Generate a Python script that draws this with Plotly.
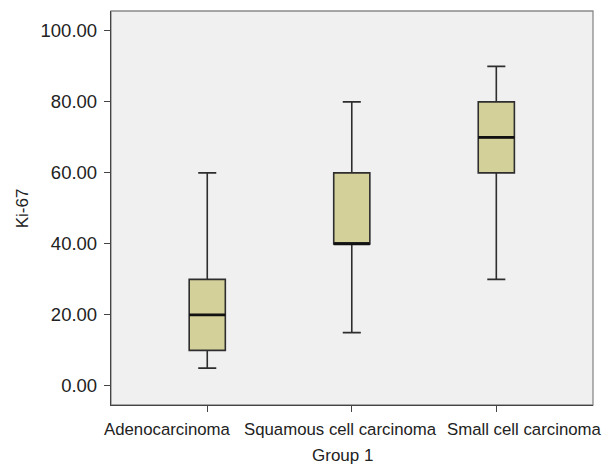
import plotly.graph_objects as go

categories = ["Adenocarcinoma", "Squamous cell carcinoma", "Small cell carcinoma"]
lower_whisker = [5, 15, 30]
q1 = [10, 40, 60]
median = [20, 40, 70]
q3 = [30, 60, 80]
upper_whisker = [60, 80, 90]
y_ticks = [0, 20, 40, 60, 80, 100]

xpos = list(range(len(categories)))
BOX_W = 0.25

fig = go.Figure()
fig.add_trace(go.Box(
    x=xpos, q1=q1, median=median, q3=q3,
    lowerfence=lower_whisker, upperfence=upper_whisker,
    width=BOX_W, whiskerwidth=0.5,
    fillcolor="#d4d09a", line=dict(color="#2e2e2e", width=1.6),
    boxpoints=False, hoverinfo="skip", showlegend=False,
))

# thicker median lines
mx, my = [], []
for i, m in zip(xpos, median):
    mx += [i - BOX_W / 2, i + BOX_W / 2, None]
    my += [m, m, None]
fig.add_trace(go.Scatter(x=mx, y=my, mode="lines",
                         line=dict(color="#111111", width=2.6),
                         hoverinfo="skip", showlegend=False))

font_family = "Liberation Sans, Arial, sans-serif"
TXT = "#222222"

fig.update_layout(
    width=616, height=465,
    margin=dict(l=111, r=23, t=11, b=60),
    paper_bgcolor="white", plot_bgcolor="#f0f0f0",
    font=dict(family=font_family, size=17, color=TXT),
    xaxis=dict(range=[-0.666, 2.669], tickvals=xpos, ticktext=["", "", ""],
               ticks="outside", ticklen=6, tickcolor="#444444",
               showline=True, linecolor="#444444", linewidth=1.3,
               showgrid=False, zeroline=False, fixedrange=True),
    yaxis=dict(range=[-5.4, 105.6], tickvals=y_ticks, tickformat=".2f",
               ticks="outside", ticklen=6, tickcolor="#444444",
               ticklabelstandoff=3, tickfont=dict(size=18.5, color=TXT),
               showline=True, linecolor="#444444", linewidth=1.3,
               showgrid=False, zeroline=False, fixedrange=True),
    shapes=[dict(type="rect", xref="paper", yref="paper", x0=0, x1=1, y0=0, y1=1,
                 line=dict(color="#8a8a8a", width=1.3), layer="below")],
)

label_x = [0.118, 0.477, 0.857]
for lx, txt in zip(label_x, categories):
    fig.add_annotation(x=lx, y=-0.061, xref="paper", yref="paper", text=txt,
                       showarrow=False, xanchor="center", yanchor="middle",
                       font=dict(size=16.8, color=TXT))
fig.add_annotation(x=0.48, y=-0.127, xref="paper", yref="paper", text="Group 1",
                   showarrow=False, xanchor="center", yanchor="middle",
                   font=dict(size=17, color=TXT))
fig.add_annotation(x=-0.184, y=0.5, xref="paper", yref="paper", text="Ki-67",
                   textangle=-90, showarrow=False, xanchor="center", yanchor="middle",
                   font=dict(size=17, color=TXT))

fig.write_html("out.html", config={"displayModeBar": False},
               post_script="document.body.style.margin='0';document.body.style.overflow='hidden';")
